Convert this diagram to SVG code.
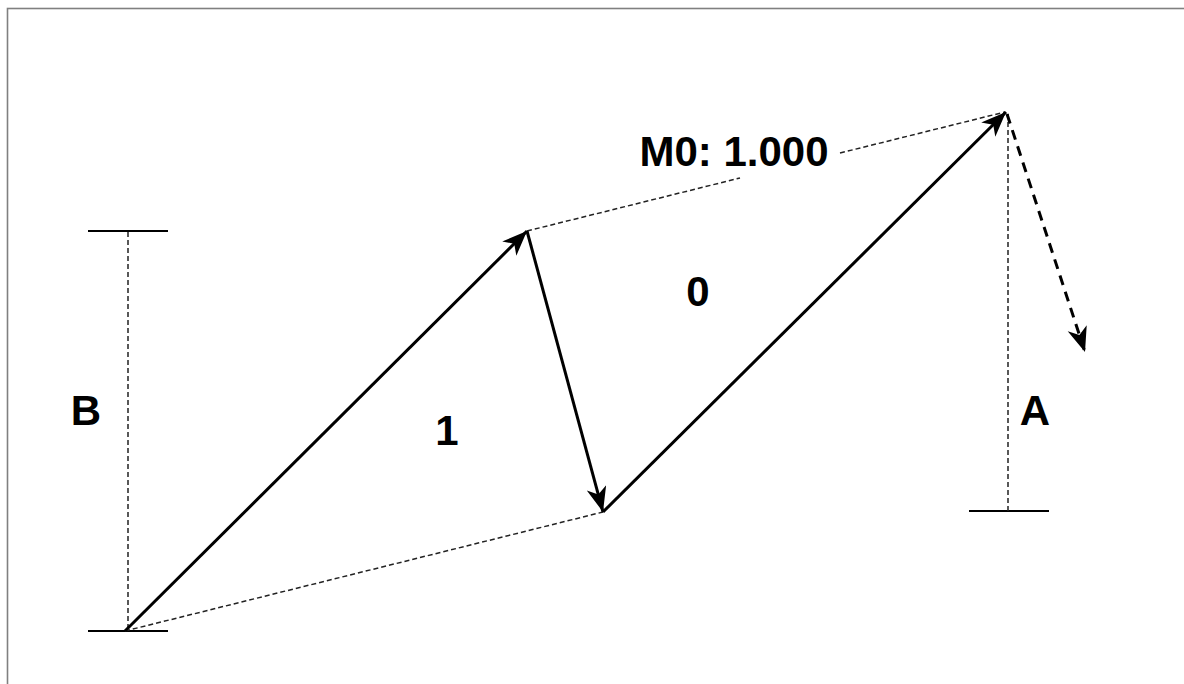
<svg xmlns="http://www.w3.org/2000/svg" width="1184" height="684" viewBox="0 0 1184 684">
<defs>
<marker id="ah" markerUnits="userSpaceOnUse" markerWidth="30" markerHeight="24" refX="25" refY="10" orient="auto">
<path d="M0,0 L25,10 L0,20 L7,10 z" fill="#000"/>
</marker>
<style>
.lbl{font-family:"Liberation Sans",Arial,sans-serif;font-weight:bold;font-size:42px;fill:#000;text-anchor:middle}
.solid{stroke:#000;stroke-width:3;fill:none}
.thin{stroke:#222;stroke-width:1.5;fill:none;stroke-dasharray:5 3}
.dim{stroke:#000;stroke-width:1.8;fill:none}
.bigdash{stroke:#000;stroke-width:3;fill:none;stroke-dasharray:10 7}
</style>
</defs>
<rect width="1184" height="684" fill="#fff"/>
<rect x="7.5" y="8.5" width="1190" height="690" fill="none" stroke="#808080" stroke-width="1.6"/>
<g id="connectors">
<line class="dim" x1="88" y1="231" x2="168" y2="231"/>
<line class="dim" x1="88" y1="631" x2="168" y2="631"/>
<line class="thin" x1="128" y1="232" x2="128" y2="631"/>
<line class="dim" x1="969" y1="511" x2="1049" y2="511"/>
<line class="thin" x1="1008" y1="114" x2="1008" y2="511"/>
<line class="thin" x1="125" y1="631" x2="603" y2="512"/>
<line class="thin" x1="527" y1="231" x2="740" y2="178"/>
<line class="thin" x1="840" y1="153" x2="1005" y2="112"/>
<line class="solid" x1="125" y1="631" x2="527" y2="231" marker-end="url(#ah)"/>
<line class="solid" x1="527" y1="231" x2="603" y2="512" marker-end="url(#ah)"/>
<line class="solid" x1="603" y1="512" x2="1006" y2="112" marker-end="url(#ah)"/>
<line class="bigdash" x1="1007" y1="114" x2="1085" y2="352" marker-end="url(#ah)"/>
</g>
<g id="label-m0"><text class="lbl" x="734" y="166">M0: 1.000</text></g>
<g id="label-0"><text class="lbl" x="698" y="306">0</text></g>
<g id="label-1"><text class="lbl" x="447" y="445">1</text></g>
<g id="label-b"><text class="lbl" x="86" y="425">B</text></g>
<g id="label-a"><text class="lbl" x="1035" y="425">A</text></g>
</svg>
